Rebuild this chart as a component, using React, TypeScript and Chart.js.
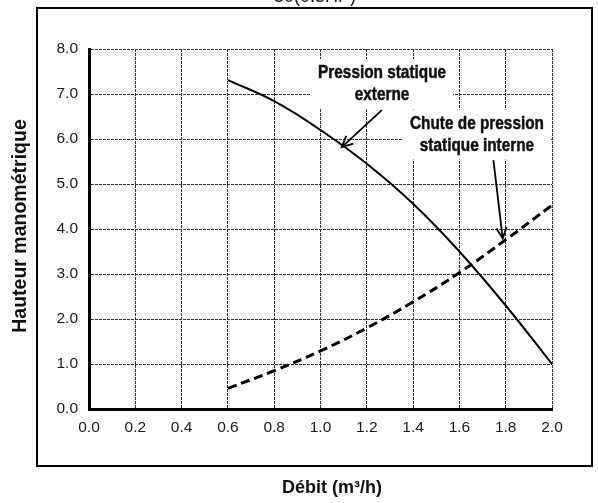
import React, { useEffect, useRef } from "react";
import { Chart, registerables } from "chart.js";

Chart.register(...registerables);

// Débit (m³/h) sampled along both curves
const flowRates = [0.6, 0.8, 1.0, 1.2, 1.4, 1.6, 1.8, 2.0];
// Pression statique externe
const externalPressure = [7.31, 6.84, 6.2, 5.45, 4.56, 3.5, 2.3, 1.0];
// Chute de pression statique interne
const internalDrop = [0.46, 0.85, 1.29, 1.8, 2.38, 3.03, 3.76, 4.53];

const xTicks = [0, 0.2, 0.4, 0.6, 0.8, 1.0, 1.2, 1.4, 1.6, 1.8, 2.0];
const yTicks = [0, 1, 2, 3, 4, 5, 6, 7, 8];

const titleText = "50(0.5HP)";
const xTitle = "Débit (m³/h)";
const yTitle = "Hauteur manométrique";

// Callouts: text block centre and arrow (from -> to) in data units
const callouts = [
  {
    lines: ["Pression statique", "externe"],
    at: { x: 1.266, y: 7.22 },
    from: { x: 1.265, y: 6.64 },
    to: { x: 1.092, y: 5.82 },
  },
  {
    lines: ["Chute de pression", "statique interne"],
    at: { x: 1.676, y: 6.1 },
    from: { x: 1.747, y: 5.53 },
    to: { x: 1.787, y: 3.79 },
  },
];

const toPoints = (ys: number[]) => flowRates.map((x, i) => ({ x, y: ys[i] }));

// condensed heavy lettering for the callouts
const CALLOUT_FONT = "bold 18.5px 'Liberation Sans', Arial, sans-serif";
const CONDENSE = 0.83;

const decorations = {
  id: "decorations",
  beforeDraw(chart: any) {
    const { ctx, width, height } = chart;
    ctx.save();
    ctx.fillStyle = "#fff";
    ctx.fillRect(0, 0, width, height);
    ctx.restore();
  },
  afterDatasetsDraw(chart: any) {
    const { ctx } = chart;
    const xs = chart.scales.x;
    const ys = chart.scales.y;
    ctx.save();
    ctx.font = CALLOUT_FONT;
    ctx.textAlign = "center";
    ctx.textBaseline = "middle";
    const lineH = 22;
    for (const c of callouts) {
      const cx = xs.getPixelForValue(c.at.x);
      const cy = ys.getPixelForValue(c.at.y);
      const w = Math.max(...c.lines.map((l) => ctx.measureText(l).width)) * CONDENSE + 14;
      const h = c.lines.length * lineH + 6;
      ctx.fillStyle = "#fff";
      ctx.fillRect(cx - w / 2, cy - h / 2, w, h);
      ctx.fillStyle = "#111";
      ctx.strokeStyle = "#111";
      ctx.lineWidth = 0.5;
      c.lines.forEach((l, i) => {
        ctx.save();
        ctx.translate(cx, cy + (i - (c.lines.length - 1) / 2) * lineH);
        ctx.scale(CONDENSE, 1);
        ctx.fillText(l, 0, 0);
        ctx.strokeText(l, 0, 0);
        ctx.restore();
      });

      // arrow with open head
      const x1 = xs.getPixelForValue(c.from.x);
      const y1 = ys.getPixelForValue(c.from.y);
      const x2 = xs.getPixelForValue(c.to.x);
      const y2 = ys.getPixelForValue(c.to.y);
      const ang = Math.atan2(y2 - y1, x2 - x1);
      const head = 12;
      const spread = 0.45;
      ctx.strokeStyle = "#000";
      ctx.lineWidth = 1.8;
      ctx.beginPath();
      ctx.moveTo(x1, y1);
      ctx.lineTo(x2, y2);
      ctx.moveTo(x2 - head * Math.cos(ang - spread), y2 - head * Math.sin(ang - spread));
      ctx.lineTo(x2, y2);
      ctx.lineTo(x2 - head * Math.cos(ang + spread), y2 - head * Math.sin(ang + spread));
      ctx.stroke();
    }
    ctx.restore();
  },
  afterDraw(chart: any) {
    const { ctx } = chart;
    ctx.save();
    // frame around the plot
    ctx.strokeStyle = "#000";
    ctx.lineWidth = 2;
    ctx.strokeRect(37, 8, 555, 458);

    // heading, sitting mostly above the frame
    ctx.fillStyle = "#111";
    ctx.font = "18px 'Liberation Sans', Arial, sans-serif";
    ctx.textAlign = "center";
    ctx.textBaseline = "alphabetic";
    ctx.fillText(titleText, 315, 2);

    // axis titles
    ctx.textBaseline = "middle";
    ctx.font = "bold 18px 'Liberation Sans', Arial, sans-serif";
    ctx.fillText(xTitle, 332, 488);
    ctx.font = "bold 19.5px 'Liberation Sans', Arial, sans-serif";
    ctx.translate(21, 226);
    ctx.rotate(-Math.PI / 2);
    ctx.fillText(yTitle, 0, 0);
    ctx.restore();
  },
};

export default function App() {
  const canvasRef = useRef<HTMLCanvasElement | null>(null);

  useEffect(() => {
    if (!canvasRef.current) return;
    const tickFont = { family: "'Liberation Sans', Arial, sans-serif", size: 15.5 };
    const chart = new Chart(canvasRef.current, {
      type: "line",
      data: {
        datasets: [
          {
            label: "Pression statique externe",
            data: toPoints(externalPressure),
            borderColor: "#000",
            borderWidth: 2,
            pointRadius: 0,
            fill: false,
            tension: 0.4,
          },
          {
            label: "Chute de pression statique interne",
            data: toPoints(internalDrop),
            borderColor: "#000",
            borderWidth: 3,
            borderDash: [9, 5],
            pointRadius: 0,
            fill: false,
            tension: 0.4,
          },
        ],
      },
      options: {
        responsive: false,
        animation: false,
        layout: { padding: { left: 0, top: 49, right: 46, bottom: 0 } },
        plugins: {
          legend: { display: false },
          tooltip: { enabled: false },
          title: { display: false },
        },
        scales: {
          x: {
            type: "linear",
            min: 0,
            max: 2,
            afterBuildTicks: (s: any) => {
              s.ticks = xTicks.map((v) => ({ value: v }));
            },
            afterFit: (s: any) => {
              s.height = 94;
            },
            ticks: {
              font: tickFont,
              color: "#1a1a1a",
              padding: 9,
              maxRotation: 0,
              autoSkip: false,
              callback: (v: any) => Number(v).toFixed(1),
            },
            grid: { color: "#333", lineWidth: 1, drawTicks: false },
            border: { display: true, color: "#000", width: 3, dash: [3, 1] },
          },
          y: {
            type: "linear",
            min: 0,
            max: 8,
            afterBuildTicks: (s: any) => {
              s.ticks = yTicks.map((v) => ({ value: v }));
            },
            afterFit: (s: any) => {
              s.width = 89;
            },
            ticks: {
              font: tickFont,
              color: "#1a1a1a",
              padding: 11,
              autoSkip: false,
              callback: (v: any) => Number(v).toFixed(1),
            },
            grid: { color: "#333", lineWidth: 1, drawTicks: false },
            border: { display: true, color: "#000", width: 3, dash: [3, 1] },
          },
        },
      } as any,
      plugins: [decorations],
    });
    return () => chart.destroy();
  }, []);

  return (
    <div style={{ position: "fixed", left: 0, top: 0, width: 598, height: 503 }}>
      <canvas ref={canvasRef} width={598} height={503} />
    </div>
  );
}
